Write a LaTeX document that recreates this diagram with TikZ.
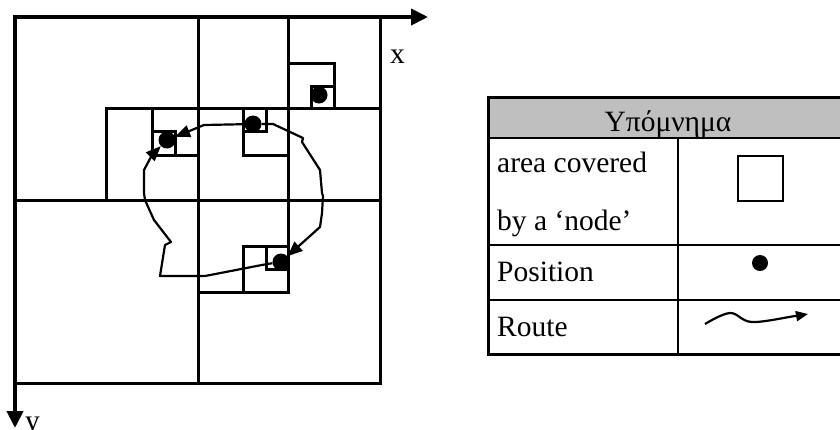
\documentclass[tikz,border=0pt]{standalone}
\usepackage{fontspec}
\setmainfont{Liberation Serif}
\usetikzlibrary{arrows.meta}

\begin{document}
\begin{tikzpicture}[
  x=1pt, y=-1pt,
  axis/.style    = {line width=4pt, line cap=rect,
                    -{Triangle[length=17pt, width=16pt]}},
  cell/.style    = {line width=3pt},
  dot/.style     = {circle, fill=black, inner sep=0pt, minimum size=17pt},
  route/.style   = {line width=2.2pt, line join=round,
                    -{Triangle[length=15pt, width=12pt]}},
  rule/.style    = {line width=2.4pt},
  legtext/.style = {font=\fontsize{29.5}{58}\selectfont, inner sep=0pt,
                    anchor=base west, align=left},
]
\useasboundingbox (0,0) rectangle (840,429);

%% Quadtree cells
\foreach \a/\b/\c/\d in {15/17/198/200, 198/17/380/200, 15/200/198/383, 198/200/380/383,
    198/17/288/108, 288/17/380/108, 198/108/288/200, 288/108/380/200,
    106/108/198/200, 152/108/198/155, 152/131/175/155,
    243/108/288/155, 243/108/266/131,
    288/63/334/108, 311/86/334/108,
    198/200/288/292, 243/246/288/292, 266/246/288/269}
  \draw[cell] (\a,\b) rectangle (\c,\d);

%% Axes
\coordinate (origin) at (15,17);
\coordinate (xend)   at (428,17);
\coordinate (yend)   at (15,428);
\draw[axis] (origin) -- (xend);
\draw[axis] (origin) -- (yend);
\node[legtext] (xlabel) at (390,63)  {x};
\node[legtext] (ylabel) at (25,430) {y};

%% Positions
\node[dot] (pA) at (167,140) {};
\node[dot] (pB) at (253,124) {};
\node[dot] (pC) at (319,95)  {};
\node[dot] (pD) at (281,262) {};

%% Routes
\draw[route] (pB) -- (204,125) -- (187,132) -- (pA);
\draw[route] (pB) -- (273,124) -- (303,138) -- (302,142) -- (320,170) -- (322,193)
  -- (323,196) -- (322,213) -- (320,227) -- (pD);
\draw[route] (pD) -- (267,264) -- (205,276) -- (160,276) -- (165,245) -- (171,242)
  -- (154,220) -- (145,200) -- (144,193) -- (144,170) -- (152,155) -- (pA);

%% Legend table
\fill[black!25] (488,97) rectangle (848,138);
\draw[rule, line width=3pt] (488,97) rectangle (848,354);
\foreach \r in {138, 245, 300}
  \draw[rule] (488,\r) -- (848,\r);
\draw[rule] (678,138) -- (678,354);

\node[legtext, anchor=base] (title) at (668,131) {Υπόμνημα};
\node[legtext] (areaText)  at (497,230) {area covered\\by a `node'};
\node[legtext] (posText)   at (497,281) {Position};
\node[legtext] (routeText) at (497,336) {Route};

%% Legend symbols
\node[draw, line width=2pt, minimum size=45pt, inner sep=0pt] (legCell) at (760,178) {};
\node[dot, minimum size=16pt] (legDot) at (760,263) {};
\draw[route, -{Triangle[length=12pt, width=10pt]}]
  plot[smooth, tension=0.6] coordinates {(705,324) (730,313) (752,322) (795,316) (808,314)};

\end{tikzpicture}
\end{document}
